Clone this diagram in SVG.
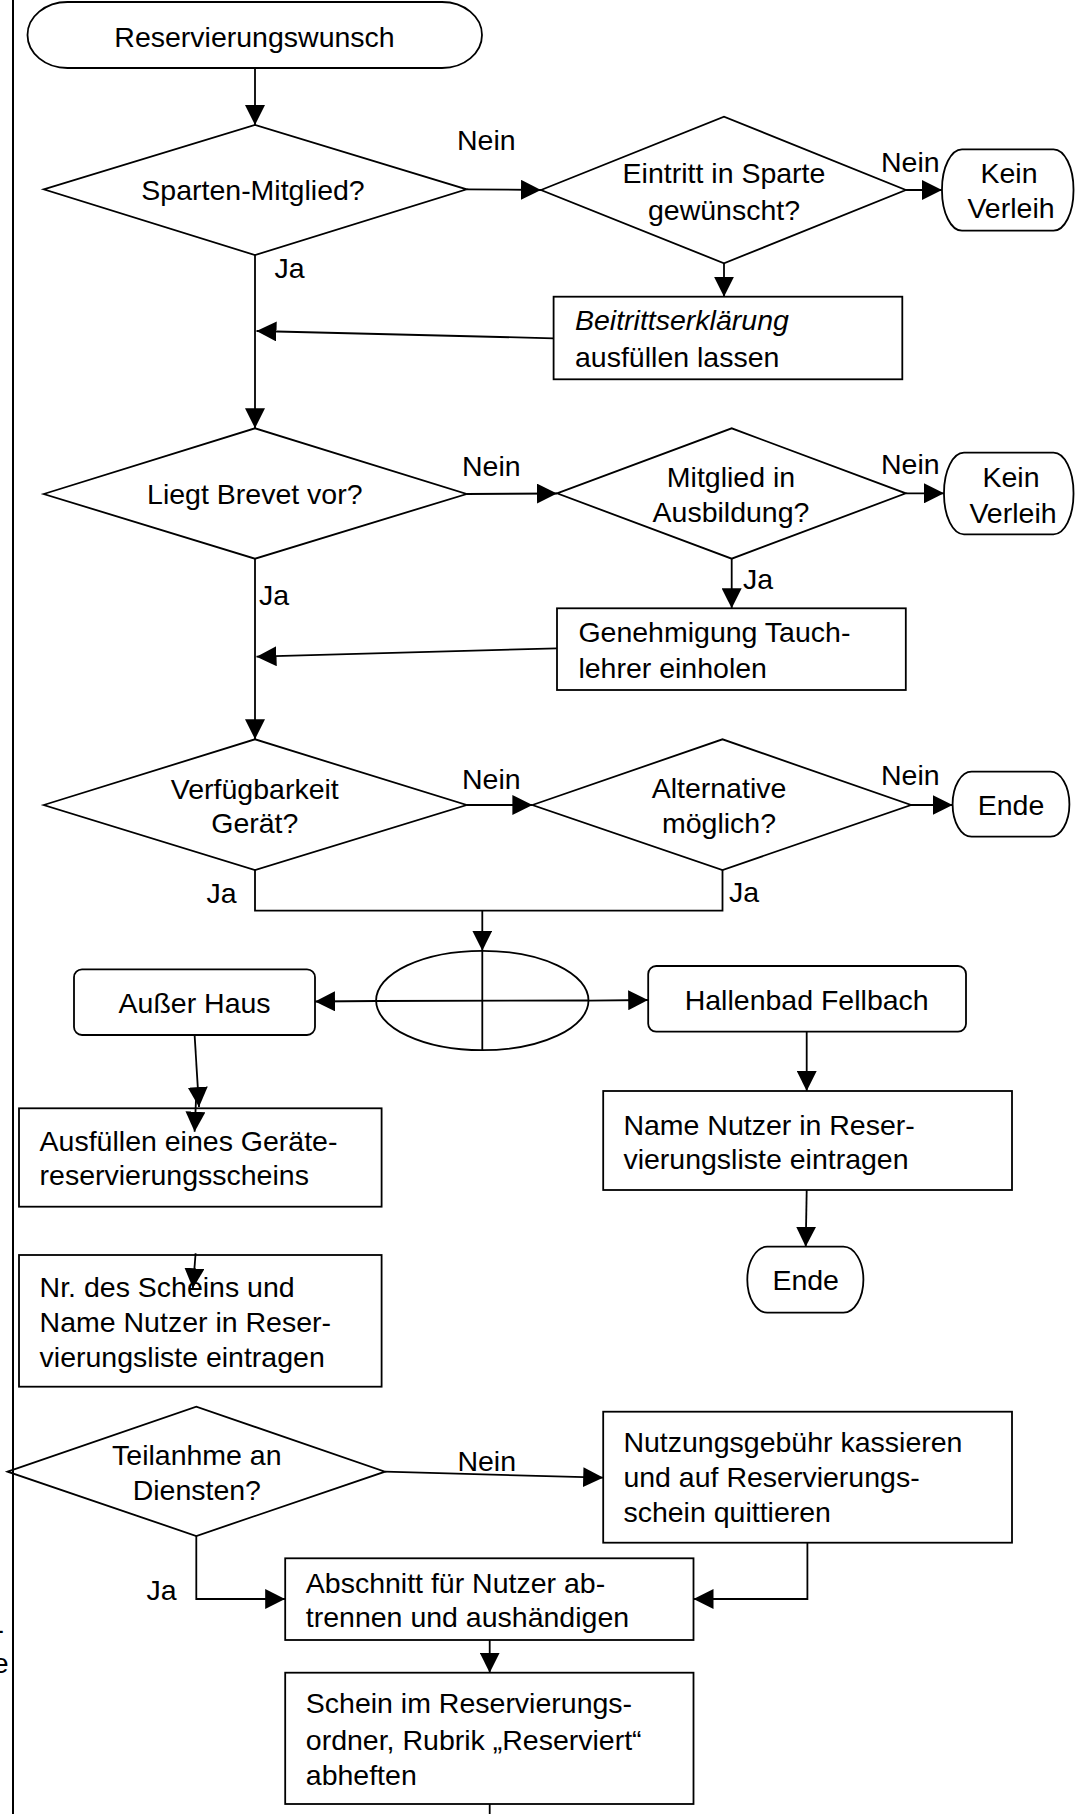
<svg xmlns="http://www.w3.org/2000/svg" width="1075" height="1814" viewBox="0 0 1075 1814">
<style>
  .shape { fill: #ffffff; stroke: #000000; stroke-width: 1.8; }
  .conn { fill: none; stroke: #000000; stroke-width: 1.8; }
  .arr { marker-end: url(#ah); }
  text { font-family: "Liberation Sans", Arial, sans-serif; font-size: 28.5px; fill: #000000; }
  .c { text-anchor: middle; }
  .it { font-style: italic; }
</style>
<defs>
  <marker id="ah" markerUnits="userSpaceOnUse" markerWidth="20" markerHeight="20" refX="20" refY="10" orient="auto">
    <path d="M0,0 L20,10 L0,20 Z" fill="#000000"/>
  </marker>
</defs>
<rect x="0" y="0" width="1075" height="1814" fill="#ffffff"/>
<text x="4" y="1639" text-anchor="end">-</text>
<text x="8.5" y="1673" text-anchor="end">e</text>

<g id="start">
  <rect class="shape" x="27.5" y="2" width="454.5" height="66" rx="40" ry="33"/>
  <text class="c" x="254.5" y="46.7">Reservierungswunsch</text>
</g>
<g id="d-sparten">
  <polygon class="shape" points="43.7,189.3 255,125 466.6,189.3 255,255"/>
  <text class="c" x="253" y="200">Sparten-Mitglied?</text>
</g>
<g id="d-eintritt">
  <polygon class="shape" points="541,190 724,116.7 905.8,190 724,263.3"/>
  <text class="c" x="724" y="183.3">Eintritt in Sparte</text>
  <text class="c" x="724" y="220">gewünscht?</text>
</g>
<g id="kein-verleih-1">
  <rect class="shape" x="942" y="149.3" width="131.5" height="81.4" rx="20" ry="40"/>
  <text class="c" x="1009" y="183.3">Kein</text>
  <text class="c" x="1011" y="218.3">Verleih</text>
</g>
<g id="beitritt">
  <rect class="shape" x="553.6" y="296.7" width="348.7" height="82.6"/>
  <text class="it" x="575" y="330">Beitrittserklärung</text>
  <text x="575" y="366.7">ausfüllen lassen</text>
</g>
<g id="d-brevet">
  <polygon class="shape" points="43.7,494 255,428.3 466.6,494 255,558.7"/>
  <text class="c" x="254.8" y="504">Liegt Brevet vor?</text>
</g>
<g id="d-ausbildung">
  <polygon class="shape" points="557,493.3 731.7,428.3 905.8,493.3 731.7,558.7"/>
  <text class="c" x="731" y="487.3">Mitglied in</text>
  <text class="c" x="731" y="521.7">Ausbildung?</text>
</g>
<g id="kein-verleih-2">
  <rect class="shape" x="944" y="452.7" width="129.5" height="81.6" rx="20" ry="40"/>
  <text class="c" x="1011" y="487.3">Kein</text>
  <text class="c" x="1013" y="522.7">Verleih</text>
</g>
<g id="genehmigung">
  <rect class="shape" x="557" y="608.3" width="348.8" height="81.7"/>
  <text x="578.4" y="641.7">Genehmigung Tauch-</text>
  <text x="578.4" y="678.3">lehrer einholen</text>
</g>
<g id="d-verfuegbarkeit">
  <polygon class="shape" points="43.7,805 255,739.3 466.6,805 255,870"/>
  <text class="c" x="254.8" y="799">Verfügbarkeit</text>
  <text class="c" x="254.8" y="833.3">Gerät?</text>
</g>
<g id="d-alternative">
  <polygon class="shape" points="532.4,805 722.5,739.3 911,805 722.5,870"/>
  <text class="c" x="719" y="798.3">Alternative</text>
  <text class="c" x="719" y="833.3">möglich?</text>
</g>
<g id="ende-1">
  <rect class="shape" x="952.6" y="771.7" width="116.8" height="65" rx="19" ry="32.5"/>
  <text class="c" x="1011" y="815">Ende</text>
</g>
<g id="verzweigung">
  <ellipse class="shape" cx="482.3" cy="1000.5" rx="106.2" ry="49.7"/>
  <line class="conn" x1="482.3" y1="950.8" x2="482.3" y2="1050.2"/>
  <line class="conn" x1="376.1" y1="1001" x2="588.5" y2="1000.5"/>
</g>
<g id="ausser-haus">
  <rect class="shape" x="74" y="969.3" width="241" height="65.7" rx="8"/>
  <text class="c" x="194.6" y="1013.3">Außer Haus</text>
</g>
<g id="hallenbad">
  <rect class="shape" x="648.2" y="966" width="317.8" height="65.7" rx="8"/>
  <text class="c" x="806.7" y="1010">Hallenbad Fellbach</text>
</g>
<g id="name-nutzer">
  <rect class="shape" x="603.2" y="1091" width="408.8" height="99"/>
  <text x="623.4" y="1135">Name Nutzer in Reser-</text>
  <text x="623.4" y="1169.3">vierungsliste eintragen</text>
</g>
<g id="ende-2">
  <rect class="shape" x="747.3" y="1246.7" width="116.1" height="66" rx="20" ry="33"/>
  <text class="c" x="805.7" y="1290">Ende</text>
</g>
<g id="ausfuellen">
  <rect class="shape" x="19" y="1108.3" width="362.6" height="98.4"/>
  <text x="39.6" y="1150.7">Ausfüllen eines Geräte-</text>
  <text x="39.6" y="1185">reservierungsscheins</text>
</g>
<g id="nr-scheins">
  <rect class="shape" x="19" y="1255" width="362.6" height="131.7"/>
  <text x="39.6" y="1297.3">Nr. des Scheins und</text>
  <text x="39.6" y="1331.7">Name Nutzer in Reser-</text>
  <text x="39.6" y="1367.3">vierungsliste eintragen</text>
</g>
<g id="d-teilnahme">
  <polygon class="shape" points="7.6,1471.7 196.3,1406.7 385,1471.7 196.3,1536"/>
  <text class="c" x="196.8" y="1465">Teilanhme an</text>
  <text class="c" x="196.8" y="1500">Diensten?</text>
</g>
<g id="nutzungsgebuehr">
  <rect class="shape" x="603.2" y="1411.7" width="408.8" height="131"/>
  <text x="623.4" y="1451.7">Nutzungsgebühr kassieren</text>
  <text x="623.4" y="1486.7">und auf Reservierungs-</text>
  <text x="623.4" y="1521.7">schein quittieren</text>
</g>
<g id="abschnitt">
  <rect class="shape" x="285.2" y="1558.3" width="408.3" height="81.7"/>
  <text x="305.8" y="1593.3">Abschnitt für Nutzer ab-</text>
  <text x="305.8" y="1626.7">trennen und aushändigen</text>
</g>
<g id="schein-ordner">
  <rect class="shape" x="285.2" y="1672.7" width="408.3" height="131.3"/>
  <text x="305.8" y="1713.3">Schein im Reservierungs-</text>
  <text x="305.8" y="1750">ordner, Rubrik „Reserviert“</text>
  <text x="305.8" y="1785">abheften</text>
</g>

<g id="connectors">
  <line class="conn arr" x1="255" y1="68" x2="255" y2="125"/>
  <line class="conn arr" x1="466.6" y1="189.3" x2="541" y2="190"/>
  <line class="conn arr" x1="905.8" y1="190" x2="942" y2="190"/>
  <line class="conn arr" x1="724" y1="263.3" x2="724" y2="296.7"/>
  <line class="conn arr" x1="553.6" y1="338.3" x2="256.5" y2="331"/>
  <line class="conn arr" x1="255" y1="255" x2="255" y2="428.3"/>
  <line class="conn arr" x1="466.6" y1="494" x2="557" y2="493.5"/>
  <line class="conn arr" x1="905.8" y1="493.3" x2="944" y2="493.3"/>
  <line class="conn arr" x1="731.7" y1="558.7" x2="731.7" y2="608.3"/>
  <line class="conn arr" x1="557" y1="648.3" x2="256.5" y2="656.7"/>
  <line class="conn arr" x1="255" y1="558.7" x2="255" y2="739.3"/>
  <line class="conn arr" x1="466.6" y1="805" x2="532.4" y2="805"/>
  <line class="conn arr" x1="911" y1="805" x2="952.6" y2="805"/>
  <polyline class="conn" points="255,870 255,910.7 722.5,910.7 722.5,870"/>
  <line class="conn arr" x1="482.3" y1="910.7" x2="482.3" y2="950.7"/>
  <line class="conn arr" x1="376" y1="1001" x2="315" y2="1001.5"/>
  <line class="conn arr" x1="588.5" y1="1000.7" x2="648.2" y2="1000"/>
  <line class="conn arr" x1="194.6" y1="1035" x2="199" y2="1107"/>
  <line class="conn arr" x1="196" y1="1100" x2="194.6" y2="1131.7"/>
  <line class="conn arr" x1="806.7" y1="1031.7" x2="806.7" y2="1091"/>
  <line class="conn arr" x1="806.7" y1="1190" x2="805.7" y2="1246.7"/>
  <line class="conn arr" x1="195.6" y1="1253.3" x2="192.9" y2="1288.3"/>
  <line class="conn arr" x1="385" y1="1471.7" x2="603.2" y2="1477.7"/>
  <polyline class="conn arr" points="196.3,1536 196.3,1599 285.2,1599"/>
  <polyline class="conn arr" points="807.4,1542.7 807.4,1599 693.5,1599"/>
  <line class="conn arr" x1="489.7" y1="1640" x2="489.7" y2="1672.7"/>
  <line class="conn" x1="489.7" y1="1804" x2="489.7" y2="1814"/>
</g>

<g id="labels">
  <text x="457" y="150">Nein</text>
  <text x="881" y="171.7">Nein</text>
  <text x="274.5" y="278.3">Ja</text>
  <text x="462" y="476">Nein</text>
  <text x="881" y="474">Nein</text>
  <text x="259" y="605">Ja</text>
  <text x="743" y="589.3">Ja</text>
  <text x="462" y="789.3">Nein</text>
  <text x="881" y="785">Nein</text>
  <text x="206.6" y="903.3">Ja</text>
  <text x="729" y="901.7">Ja</text>
  <text x="457.4" y="1470.7">Nein</text>
  <text x="146.4" y="1600">Ja</text>
</g>

<line x1="13" y1="0" x2="13" y2="1814" stroke="#000000" stroke-width="2"/>
</svg>
